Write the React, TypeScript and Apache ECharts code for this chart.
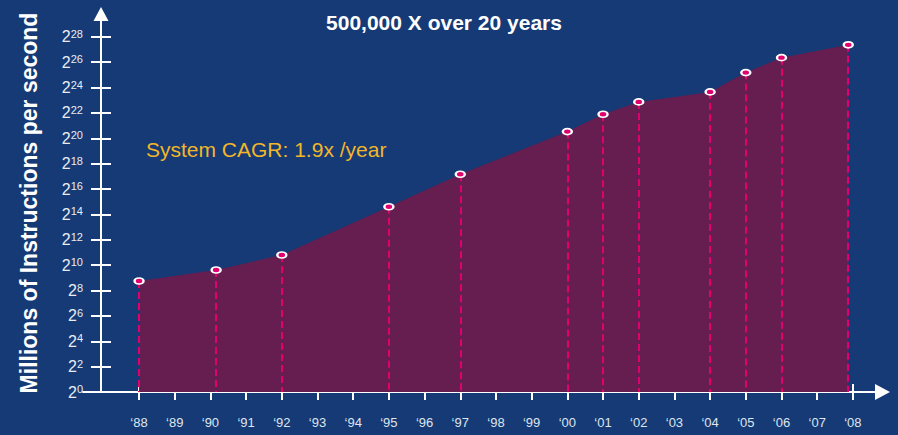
import React, { useEffect, useRef } from "react";
import * as echarts from "echarts";

// Years at which systems were measured (fractional where the marker sits off a tick)
const years = [1988, 1990.16, 1992, 1995, 1997, 2000, 2001, 2002, 2004, 2005, 2006, 2007.87];
// log2 of Millions of Instructions per second
const log2Mips = [8.75, 9.62, 10.8, 14.6, 17.17, 20.53, 21.9, 22.87, 23.66, 25.18, 26.36, 27.37];
// Axis tick values
const yearTicks = [1988, 1989, 1990, 1991, 1992, 1993, 1994, 1995, 1996, 1997, 1998, 1999, 2000, 2001, 2002, 2003, 2004, 2005, 2006, 2007, 2008];
const exponentTicks = [0, 2, 4, 6, 8, 10, 12, 14, 16, 18, 20, 22, 24, 26, 28];

const titleText = "500,000 X over 20 years";
const cagrText = "System CAGR: 1.9x /year";
const yName = "Millions of Instructions per second";

const BG = "#153a75";
const AREA = "#661d4f";
const PINK = "#e2006f";
const FONT = '"Liberation Sans", Arial, sans-serif';

export default function App() {
  const ref = useRef<HTMLDivElement>(null);
  useEffect(() => {
    document.body.style.margin = "0";
    const chart = echarts.init(ref.current!, null, { renderer: "svg" });
    const points = years.map((y, i) => [y, log2Mips[i]]);
    const xCommon = {
      type: "value",
      min: 1986.43,
      max: 2008.83,
      position: "bottom",
      splitLine: { show: false },
    };
    const yCommon = {
      type: "value",
      min: 0,
      max: 29.8,
      position: "left",
      offset: -18,
      splitLine: { show: false },
    };
    chart.setOption({
      animation: false,
      backgroundColor: BG,
      textStyle: { fontFamily: FONT },
      grid: { left: 83, right: 15.5, top: 14, bottom: 43 },
      graphic: [
        {
          type: "text",
          x: 444,
          y: 22,
          style: {
            text: titleText,
            fill: "#ffffff",
            font: `bold 21px ${FONT}`,
            align: "center",
            verticalAlign: "middle",
          },
        },
        {
          type: "text",
          x: 146,
          y: 149,
          style: {
            text: cagrText,
            fill: "#f2b629",
            font: `21px ${FONT}`,
            align: "left",
            verticalAlign: "middle",
          },
        },
      ],
      xAxis: [
        {
          ...xCommon,
          axisLine: {
            show: true,
            onZero: false,
            symbol: ["none", "triangle"],
            symbolSize: [16, 15],
            lineStyle: { color: "#ffffff", width: 2 },
          },
          axisTick: {
            show: true,
            inside: false,
            length: 8,
            customValues: yearTicks,
            lineStyle: { color: "#ffffff", width: 2 },
          },
          axisLabel: {
            show: true,
            customValues: yearTicks,
            margin: 24,
            fontSize: 13,
            color: "#dfe5ef",
            fontFamily: FONT,
            formatter: (v: number) => "\u2018" + String(Math.round(v)).slice(2),
          },
        },
        {
          ...xCommon,
          axisLine: { show: false, onZero: false },
          axisTick: {
            show: true,
            inside: true,
            length: 8,
            customValues: yearTicks,
            lineStyle: { color: "#ffffff", width: 2 },
          },
          axisLabel: { show: false },
        },
      ],
      yAxis: [
        {
          ...yCommon,
          name: yName,
          nameLocation: "middle",
          nameGap: 61,
          nameRotate: 90,
          nameTextStyle: { color: "#ffffff", fontSize: 23, fontWeight: "bold", fontFamily: FONT },
          axisLine: {
            show: true,
            onZero: false,
            symbol: ["none", "triangle"],
            symbolSize: [15, 14],
            lineStyle: { color: "#ffffff", width: 2 },
          },
          axisTick: {
            show: true,
            inside: false,
            length: 10,
            customValues: exponentTicks,
            lineStyle: { color: "#ffffff", width: 2 },
          },
          axisLabel: {
            show: true,
            customValues: exponentTicks,
            margin: 18,
            fontSize: 16,
            formatter: (v: number) => `{b|2}{s|${Math.round(v)}}`,
            rich: {
              b: { fontSize: 16, lineHeight: 17, color: "#e8ecf4", fontFamily: FONT },
              s: { fontSize: 11, lineHeight: 11, verticalAlign: "top", color: "#e8ecf4", fontFamily: FONT },
            },
          },
        },
        {
          ...yCommon,
          axisLine: { show: false, onZero: false },
          axisTick: {
            show: true,
            inside: true,
            length: 10,
            customValues: exponentTicks,
            lineStyle: { color: "#ffffff", width: 2 },
          },
          axisLabel: { show: false },
        },
      ],
      series: [
        {
          type: "line",
          data: points,
          xAxisIndex: 0,
          yAxisIndex: 0,
          showSymbol: false,
          symbol: "none",
          lineStyle: { width: 0, opacity: 0 },
          areaStyle: { color: AREA, opacity: 1 },
          z: 2,
          markLine: {
            silent: true,
            symbol: ["none", "none"],
            label: { show: false },
            lineStyle: { color: PINK, width: 2, type: [7, 4], opacity: 1 },
            data: years.map((y, i) => [
              { coord: [y, log2Mips[i]] },
              { coord: [y, 0] },
            ]),
          },
        },
        {
          type: "scatter",
          data: points,
          xAxisIndex: 0,
          yAxisIndex: 0,
          symbol: "path://M0,5A5,5,0,1,1,10,5A5,5,0,1,1,0,5Z",
          symbolSize: [9, 6],
          itemStyle: { color: PINK, borderColor: "#ffffff", borderWidth: 2, opacity: 1 },
          z: 10,
        },
      ],
    });
    return () => chart.dispose();
  }, []);
  return <div ref={ref} style={{ width: 898, height: 435 }} />;
}
